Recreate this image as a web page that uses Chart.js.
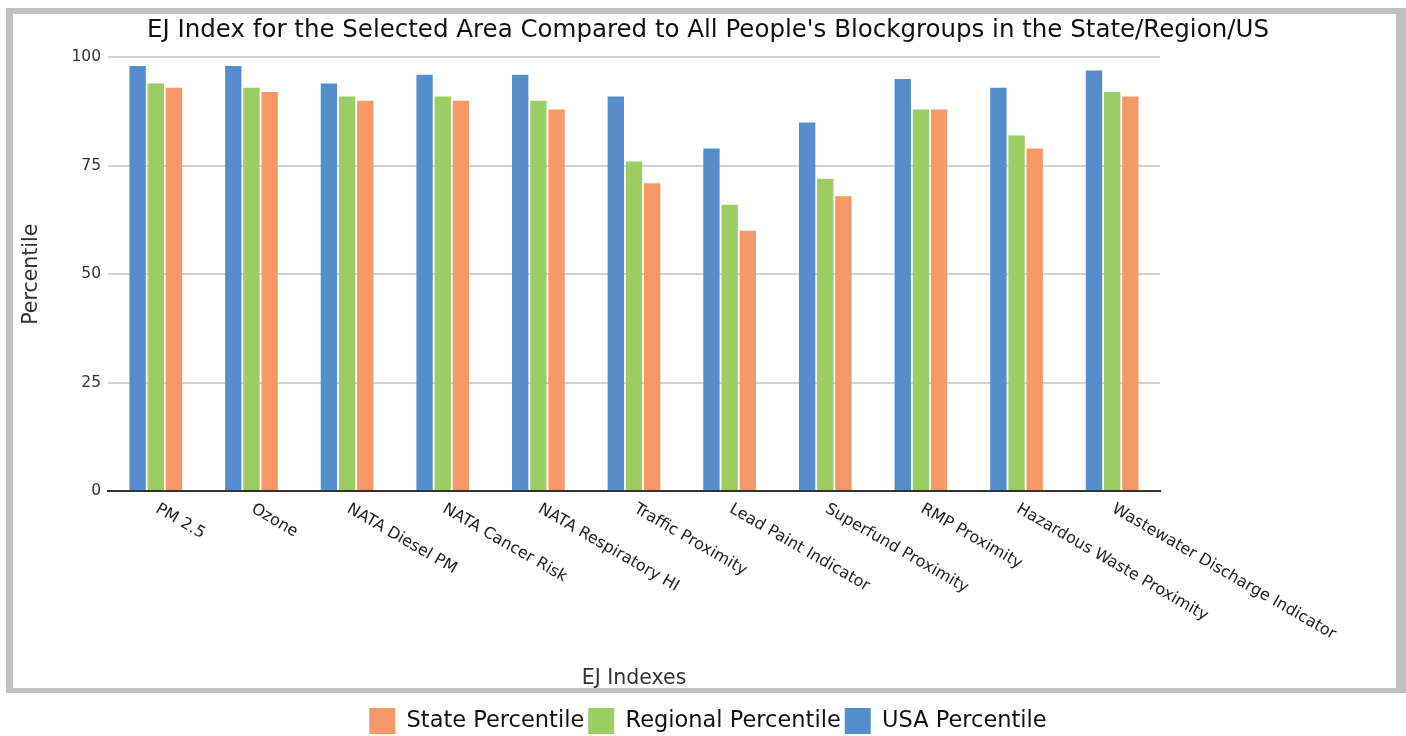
<!DOCTYPE html>
<html>
<head>
<meta charset="utf-8">
<script src="https://cdn.jsdelivr.net/npm/chart.js@4.4.1/dist/chart.umd.min.js"></script>
<style>
  html, body { margin: 0; padding: 0; background: #fff; }
  #wrap { width: 1406px; height: 736px; }
</style>
</head>
<body>
<div id="wrap"><canvas id="myChart" width="1406" height="736"></canvas></div>
<script>
// categories and values
const categories = ['PM 2.5', 'Ozone', 'NATA Diesel PM', 'NATA Cancer Risk', 'NATA Respiratory HI',
  'Traffic Proximity', 'Lead Paint Indicator', 'Superfund Proximity', 'RMP Proximity',
  'Hazardous Waste Proximity', 'Wastewater Discharge Indicator'];
const usaPct      = [98, 98, 94, 96, 96, 91, 79, 85, 95, 93, 97];
const regionalPct = [94, 93, 91, 91, 90, 76, 66, 72, 88, 82, 92];
const statePct    = [93, 92, 90, 90, 88, 71, 60, 68, 88, 79, 91];
const yTicks = [0, 25, 50, 75, 100];

const FONT = '"DejaVu Sans", Verdana, sans-serif';

// grey frame round the chart (the legend sits below it)
const framePlugin = {
  id: 'frame',
  beforeDraw(chart) {
    const ctx = chart.ctx;
    ctx.save();
    ctx.fillStyle = '#fff';
    ctx.fillRect(0, 0, chart.width, chart.height);
    ctx.fillStyle = '#c0c0c0';
    ctx.fillRect(6, 8, 1400, 685);
    ctx.fillStyle = '#fff';
    ctx.fillRect(13, 14, 1383, 674);
    ctx.restore();
  }
};

// x labels turned clockwise, starting at the tick
const rotatedLabels = {
  id: 'rotatedLabels',
  afterDraw(chart) {
    const ctx = chart.ctx;
    const x = chart.scales.x;
    ctx.save();
    ctx.font = '16px ' + FONT;
    ctx.fillStyle = '#222';
    ctx.textAlign = 'left';
    ctx.textBaseline = 'top';
    categories.forEach((lbl, i) => {
      ctx.save();
      ctx.translate(x.getPixelForTick(i) + 5, x.top + 10);
      ctx.rotate(30 * Math.PI / 180);
      ctx.fillText(lbl, 0, 0);
      ctx.restore();
    });
    ctx.restore();
  }
};

const ctx = document.getElementById('myChart').getContext('2d');
const myChart = new Chart(ctx, {
  type: 'bar',
  data: {
    labels: categories,
    datasets: [
      { label: 'USA Percentile', data: usaPct, backgroundColor: '#558ecd', borderWidth: 0 },
      { label: 'Regional Percentile', data: regionalPct, backgroundColor: '#9bcd64', borderWidth: 0 },
      { label: 'State Percentile', data: statePct, backgroundColor: '#f79868', borderWidth: 0 }
    ]
  },
  options: {
    responsive: false,
    animation: false,
    categoryPercentage: 0.57,
    barPercentage: 0.9,
    layout: { padding: { top: 10, left: 10, right: 0, bottom: -8 } },
    plugins: {
      tooltip: { enabled: false },
      title: {
        display: true,
        text: "EJ Index for the Selected Area Compared to All People's Blockgroups in the State/Region/US",
        color: '#111',
        font: { family: FONT, size: 24.5, weight: 'normal' },
        padding: { top: 6, bottom: 12 }
      },
      legend: {
        position: 'bottom',
        reverse: true,
        labels: {
          boxWidth: 26,
          boxHeight: 26,
          padding: 4,
          color: '#111',
          font: { family: FONT, size: 22.5 }
        }
      }
    },
    scales: {
      x: {
        grid: { display: false },
        border: { display: true, color: '#333', width: 2 },
        ticks: { display: false },
        title: {
          display: true,
          text: 'EJ Indexes',
          color: '#333',
          font: { family: FONT, size: 20.5 },
          padding: { top: 0, bottom: 13 }
        },
        afterFit(scale) { scale.height = 213; }
      },
      y: {
        min: 0,
        max: 100,
        afterBuildTicks(scale) { scale.ticks = yTicks.map(v => ({ value: v })); },
        grid: {
          drawTicks: false,
          lineWidth: 2,
          color: c => (c.tick && c.tick.value === 0) ? 'rgba(0,0,0,0)' : '#d3d3d3'
        },
        border: { display: false },
        ticks: { color: '#333', padding: 7, font: { family: FONT, size: 15.5 } },
        title: {
          display: true,
          text: 'Percentile',
          color: '#333',
          font: { family: FONT, size: 20.5 },
          padding: { top: 9, bottom: 0 }
        },
        afterFit(scale) { scale.width = 98; }
      },
      yRight: {
        position: 'right',
        grid: { display: false },
        border: { display: false },
        ticks: { display: false },
        afterFit(scale) { scale.width = 246; }
      }
    }
  },
  plugins: [framePlugin, rotatedLabels]
});
</script>
</body>
</html>
